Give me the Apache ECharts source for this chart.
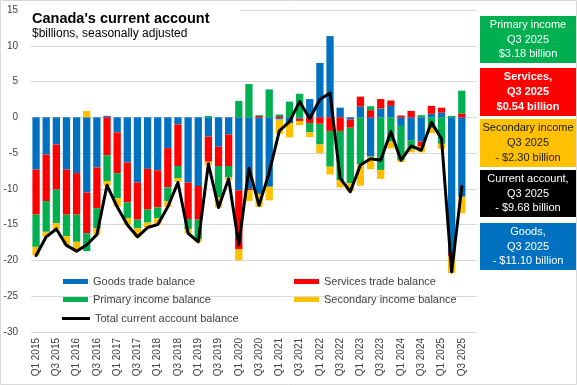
<!DOCTYPE html>
<html><head><meta charset="utf-8">
<script src="https://cdn.jsdelivr.net/npm/echarts@6/dist/echarts.min.js"></script>
<style>html,body{margin:0;padding:0;background:#fff}#c{width:577px;height:385px}</style>
</head><body><div id="c"></div>
<script>
const categories = ['Q1 2015','Q2 2015','Q3 2015','Q4 2015','Q1 2016','Q2 2016','Q3 2016','Q4 2016',
  'Q1 2017','Q2 2017','Q3 2017','Q4 2017','Q1 2018','Q2 2018','Q3 2018','Q4 2018',
  'Q1 2019','Q2 2019','Q3 2019','Q4 2019','Q1 2020','Q2 2020','Q3 2020','Q4 2020',
  'Q1 2021','Q2 2021','Q3 2021','Q4 2021','Q1 2022','Q2 2022','Q3 2022','Q4 2022',
  'Q1 2023','Q2 2023','Q3 2023','Q4 2023','Q1 2024','Q2 2024','Q3 2024','Q4 2024',
  'Q1 2025','Q2 2025','Q3 2025','Q4 2025'];
const goods = [-7.3,-5.2,-3.8,-7.3,-7.8,-10.5,-7.0,0.2,-2.1,-6.3,
  -9.1,-7.2,-7.4,-4.3,-1.0,-9.1,-9.6,-2.7,-4.1,-2.4,
  -10.2,-10.0,-10.7,-9.7,-0.3,-0.8,-0.2,2.55,7.6,11.35,
  1.35,-0.3,1.5,-5.5,1.25,1.6,-1.2,-3.2,-3.4,0.5,
  0.65,-19.0,-11.10,null];
const services = [-6.3,-6.5,-6.3,-6.3,-5.8,-5.7,-5.7,-5.3,-5.7,-5.6,
  -5.2,-5.7,-5.2,-5.5,-5.8,-5.1,-4.7,-3.5,-2.7,-4.4,
  -8.2,-0.2,0.2,0,0.2,0,-0.3,-0.8,-0.9,-1.9,
  -1.9,-1.15,1.4,1.0,1.3,0.75,0.25,0.9,-0.7,1.1,
  0.7,-0.45,0.54,null];
const primary = [-4.5,-4.3,-4.7,-3.0,-3.8,-2.5,-2.8,-3.6,-3.5,-2.2,
  -1.2,-1.8,-1.5,-1.9,-1.7,-1.4,-2.7,0.2,-4.4,-1.6,
  2.3,4.65,0.1,3.9,0.2,2.2,3.3,-1.3,-2.9,-5.0,
  -6.85,-7.75,-6.6,0.55,-7.35,-3.4,-4.75,-1.3,0.3,-1.5,
  -3.7,0.2,3.18,null];
const secondary = [-1.2,-0.7,-0.8,-1.3,-1.3,0.9,-0.9,-0.7,-1.2,-0.9,
  -1.2,-0.7,-0.9,-0.8,-0.5,-0.6,-0.4,-0.5,-1.4,-0.3,
  -1.6,-1.5,-1.8,-1.9,-2.0,-2.0,-0.6,-0.65,-1.2,-1.1,
  -1.05,-1.15,-2.95,-1.75,-1.25,-0.95,-0.3,-0.4,-0.8,-0.7,
  -0.7,-2.3,-2.30,null];
const total = [-19.3,-16.7,-15.6,-17.9,-18.7,-17.8,-16.4,-9.5,-12.5,-15.0,
  -16.7,-15.4,-15.0,-12.5,-9.1,-16.2,-17.4,-6.5,-12.6,-8.6,
  -17.8,-7.1,-12.3,-7.7,-1.9,-0.6,2.2,-0.2,2.5,3.4,
  -8.5,-10.4,-6.65,-5.8,-6.0,-2.0,-6.0,-4.0,-4.6,-0.7,
  -3.0,-21.6,-9.68,null];
const yTicks = {min: -30, max: 15, interval: 5};
const boxes = [
  {lines: ['Primary income','Q3 2025','$3.18 billion'], fill: '#00B050', color: '#fff', bold: false},
  {lines: ['Services,','Q3 2025','$0.54 billion'], fill: '#FF0000', color: '#fff', bold: true},
  {lines: ['Secondary income','Q3 2025','- $2.30 billion'], fill: '#FFC000', color: '#1a1a1a', bold: false},
  {lines: ['Current account,','Q3 2025','- $9.68 billion'], fill: '#000000', color: '#fff', bold: false},
  {lines: ['Goods,','Q3 2025','- $11.10 billion'], fill: '#0070C0', color: '#fff', bold: false}
];
const boxTops = [16, 68, 119, 170, 223];

const FONT = 'Liberation Sans, Arial, sans-serif';
const chart = echarts.init(document.getElementById('c'), null, {renderer: 'canvas'});

const graphics = [
  {type: 'rect', z: 100, shape: {x: 0.5, y: 0.5, width: 576, height: 384}, style: {fill: 'none', stroke: '#d9d9d9', lineWidth: 1}},
  {type: 'rect', z: 5, shape: {x: 28, y: 3, width: 212, height: 39}, style: {fill: '#fff'}},
  {type: 'text', z: 6, x: 32, y: 18.5, style: {text: "Canada's current account", font: 'bold 14.5px ' + FONT, fill: '#000', verticalAlign: 'middle'}},
  {type: 'text', z: 6, x: 32, y: 33.5, style: {text: '$billions, seasonally adjusted', font: '12px ' + FONT, fill: '#000', verticalAlign: 'middle'}}
];
boxes.forEach((b, i) => {
  const h = (i === 1 || i === 2) ? 48 : 47;
  graphics.push({type: 'rect', z: 10, shape: {x: 480, y: boxTops[i], width: 96, height: h}, style: {fill: b.fill}});
  graphics.push({type: 'text', z: 11, x: 528, y: boxTops[i] + h / 2, style: {
    text: b.lines.join('\n'), font: (b.bold ? 'bold ' : '') + '11px ' + FONT, fill: b.color,
    align: 'center', verticalAlign: 'middle', lineHeight: 14.6}});
});

function legendItem(name, left, top, opts) {
  return Object.assign({
    data: [name], left: left, top: top, padding: 0, itemWidth: 25, itemHeight: 5, icon: 'rect',
    textStyle: {fontSize: 11, color: '#404040', fontFamily: FONT}, selectedMode: false
  }, opts || {});
}

const barBase = {type: 'bar', stack: 'ca', barWidth: '72%'};
chart.setOption({
  animation: false,
  grid: {left: 31, right: 100, top: 10, bottom: 53},
  legend: [
    legendItem('Goods trade balance', 63, 276),
    legendItem('Services trade balance', 294, 276),
    legendItem('Primary income balance', 63, 294),
    legendItem('Secondary income balance', 294, 294),
    legendItem('Total current account balance', 62, 313, {itemWidth: 28, itemHeight: 3,
      data: [{name: 'Total current account balance', icon: 'rect', itemStyle: {color: '#000'}}]})
  ],
  xAxis: {
    type: 'category', data: categories,
    axisLine: {show: false}, axisTick: {show: false},
    axisLabel: {interval: 1, rotate: 90, fontSize: 10, color: '#404040', fontFamily: FONT, margin: 6, padding: [3, 0, 0, 0]}
  },
  yAxis: {
    type: 'value', min: yTicks.min, max: yTicks.max, interval: yTicks.interval,
    axisLine: {show: false}, axisTick: {show: false},
    axisLabel: {fontSize: 10, color: '#404040', fontFamily: FONT, margin: 13},
    splitLine: {lineStyle: {color: '#d9d9d9', width: 1}}
  },
  series: [
    Object.assign({name: 'Goods trade balance', data: goods, itemStyle: {color: '#0070C0'}}, barBase),
    Object.assign({name: 'Services trade balance', data: services, itemStyle: {color: '#FF0000'}}, barBase),
    Object.assign({name: 'Primary income balance', data: primary, itemStyle: {color: '#00B050'}}, barBase),
    Object.assign({name: 'Secondary income balance', data: secondary, itemStyle: {color: '#FFC000'}}, barBase),
    {name: 'Total current account balance', type: 'line', data: total, symbol: 'none', z: 5,
      lineStyle: {color: '#000', width: 3, join: 'round', cap: 'round'}, itemStyle: {color: '#000'}}
  ],
  graphic: graphics
});
</script>
</body></html>
